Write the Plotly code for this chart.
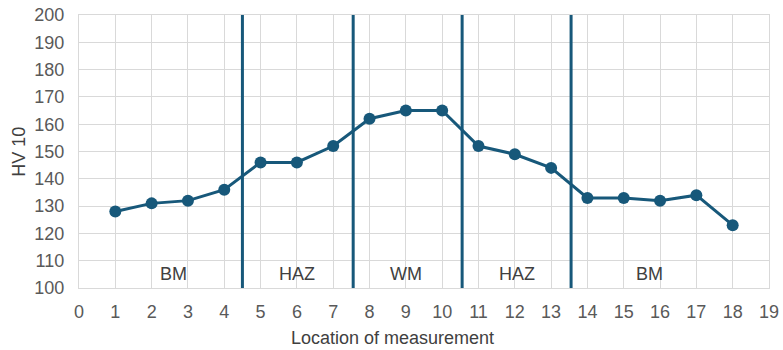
import plotly.graph_objects as go

# Hardness profile across the welded joint
location = [1, 2, 3, 4, 5, 6, 7, 8, 9, 10, 11, 12, 13, 14, 15, 16, 17, 18]
hardness = [128, 131, 132, 136, 146, 146, 152, 162, 165, 165, 152, 149, 144, 133, 133, 132, 134, 123]

# Zone boundaries and zone names
boundaries = [4.5, 7.55, 10.55, 13.55]
zone_names = ["BM", "HAZ", "WM", "HAZ", "BM"]
zone_centers = [2.6, 6.0, 9.0, 12.05, 15.7]

line_color = "#17587a"
grid_color = "#d9d9d9"
text_color = "#595959"
title_color = "#404040"
font_family = "Liberation Sans, Arial, sans-serif"

fig = go.Figure()

for b in boundaries:
    fig.add_trace(go.Scatter(
        x=[b, b], y=[100, 201.3], mode="lines",
        line=dict(color=line_color, width=3),
        showlegend=False, hoverinfo="skip", cliponaxis=False,
    ))

fig.add_trace(go.Scatter(
    x=location, y=hardness, mode="lines+markers",
    line=dict(color=line_color, width=3),
    marker=dict(color=line_color, size=12),
    showlegend=False,
))

for name, cx in zip(zone_names, zone_centers):
    fig.add_annotation(
        x=cx, y=105, text=name, showarrow=False,
        font=dict(size=18, color=title_color, family=font_family),
    )

# Axis titles placed in paper coordinates
fig.add_annotation(
    xref="paper", yref="paper", x=0.5 - 0.045, y=-0.183,
    text="Location of measurement", showarrow=False,
    xanchor="center", yanchor="middle",
    font=dict(size=18, color=title_color, family=font_family),
)
fig.add_annotation(
    xref="paper", yref="paper", x=-0.088, y=0.5,
    text="HV 10", showarrow=False, textangle=-90,
    xanchor="center", yanchor="middle",
    font=dict(size=18, color=title_color, family=font_family),
)

fig.update_layout(
    width=783, height=350,
    margin=dict(l=79, r=14, t=15, b=62),
    paper_bgcolor="white", plot_bgcolor="white",
    font=dict(family=font_family, color=text_color, size=18),
)

fig.update_xaxes(
    range=[0, 19], dtick=1, tick0=0, automargin=False,
    showgrid=True, gridcolor=grid_color, gridwidth=1.3,
    showline=True, linecolor=grid_color, linewidth=1.3, mirror=True,
    zeroline=False,
    ticks="outside", ticklen=7, tickcolor="rgba(0,0,0,0)",
    tickfont=dict(size=18, color=text_color),
)

fig.update_yaxes(
    range=[100, 200], dtick=10, automargin=False,
    showgrid=True, gridcolor=grid_color, gridwidth=1.3,
    showline=True, linecolor=grid_color, linewidth=1.3, mirror=True,
    zeroline=False,
    ticks="outside", ticklen=10, tickcolor="rgba(0,0,0,0)",
    tickfont=dict(size=18, color=text_color),
)

fig.write_html("out.html")
